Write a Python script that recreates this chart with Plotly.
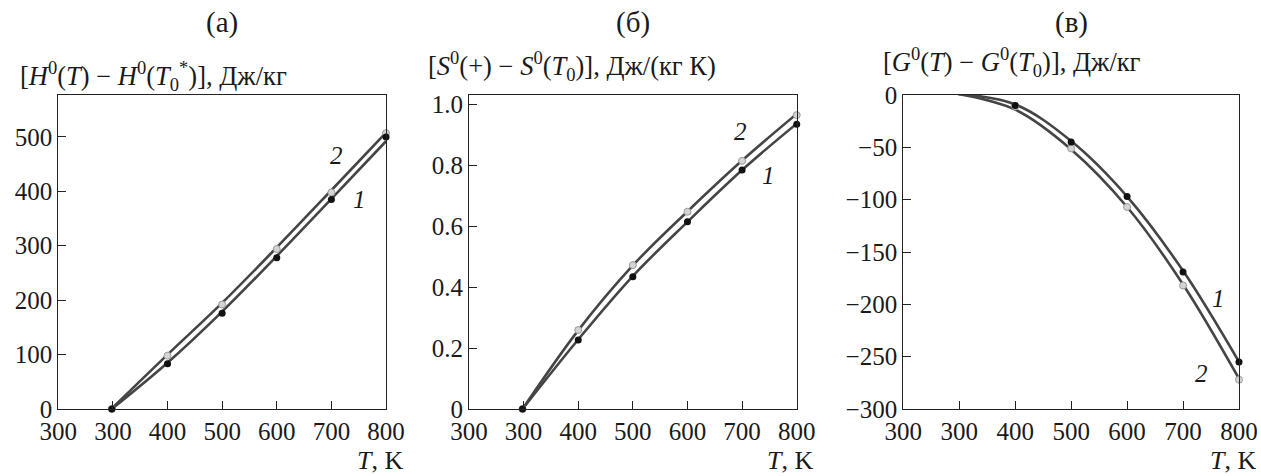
import plotly.graph_objects as go

# ---- data ----
T = [298, 400, 500, 600, 700, 800]

H_line1 = [0, 85, 179, 281, 386, 492]
H_line2 = [1, 100, 195, 297, 402, 508]
H_pts1 = [0, 83, 176, 278, 385, 500]
H_pts2 = [0, 98, 192, 294, 398, 507]

S_line1 = [0, 0.228, 0.436, 0.614, 0.784, 0.936]
S_line2 = [0, 0.258, 0.471, 0.648, 0.815, 0.968]
S_pts1 = [0, 0.226, 0.434, 0.614, 0.784, 0.934]
S_pts2 = [0, 0.259, 0.472, 0.647, 0.814, 0.964]

G_line1 = [1, -9, -44, -97, -168, -255]
G_line2 = [1, -14, -52, -107, -181, -271]
G_pts1 = [1, -10, -45, -97, -169, -255]
G_pts2 = [1, -11, -51, -107, -182, -272]

x_tickvals = [200, 300, 400, 500, 600, 700, 800]
x_ticktext = ["300", "300", "400", "500", "600", "700", "800"]
H_ticks = [0, 100, 200, 300, 400, 500]
S_ticks = [0, 0.2, 0.4, 0.6, 0.8, 1.0]
S_ticktext = ["0", "0.2", "0.4", "0.6", "0.8", "1.0"]
G_ticks = [0, -50, -100, -150, -200, -250, -300]

W, H = 1261, 476
FONT = "Liberation Serif"
LINE_C = "#454545"
TXT_C = "#1a1a1a"

fig = go.Figure()

panels = [
    ("x", "y", H_line1, H_line2, H_pts1, H_pts2),
    ("x2", "y2", S_line1, S_line2, S_pts1, S_pts2),
    ("x3", "y3", G_line1, G_line2, G_pts1, G_pts2),
]
for xa, ya, l1, l2, p1, p2 in panels:
    for ln in (l1, l2):
        fig.add_trace(go.Scatter(x=T, y=ln, mode="lines", xaxis=xa, yaxis=ya,
                                 line=dict(color=LINE_C, width=2.6, shape="spline", smoothing=1),
                                 showlegend=False, hoverinfo="skip"))
    fig.add_trace(go.Scatter(x=T, y=p2, mode="markers", xaxis=xa, yaxis=ya, cliponaxis=False,
                             marker=dict(color="#d4d4d4", size=7, symbol="circle",
                                         line=dict(color="#9a9a9a", width=1)),
                             showlegend=False))
    fig.add_trace(go.Scatter(x=T, y=p1, mode="markers", xaxis=xa, yaxis=ya, cliponaxis=False,
                             marker=dict(color="#111111", size=7, symbol="circle"),
                             showlegend=False))

def px_x(a, b):
    return [a / W, b / W]

y_dom = [1 - 409 / H, 1 - 95 / H]
x_doms = [px_x(58.3, 386), px_x(469, 796.7), px_x(903.3, 1239)]

axis_common = dict(showline=True, linecolor="#222", linewidth=1.2, mirror=True,
                   ticks="inside", ticklen=8, tickcolor="#222", tickwidth=1.2,
                   showgrid=False, zeroline=False, automargin=False,
                   tickfont=dict(family=FONT, size=25, color=TXT_C))

layout = dict(width=W, height=H, margin=dict(l=0, r=0, t=0, b=0, pad=0, autoexpand=False),
              template="none",
              paper_bgcolor="white", plot_bgcolor="white", showlegend=False)

for i, dom in enumerate(x_doms):
    sfx = "" if i == 0 else str(i + 1)
    layout["xaxis" + sfx] = dict(axis_common, domain=dom, range=[200, 800],
                                 tickmode="array", tickvals=x_tickvals, ticktext=x_ticktext,
                                 anchor="y" + sfx)
layout["yaxis"] = dict(axis_common, domain=y_dom, range=[0, 577], tickvals=H_ticks, anchor="x")
layout["yaxis2"] = dict(axis_common, domain=y_dom, range=[0, 1.03], tickvals=S_ticks,
                        ticktext=S_ticktext, anchor="x2")
layout["yaxis3"] = dict(axis_common, domain=y_dom, range=[-300, 0], tickvals=G_ticks, anchor="x3")

fig.update_layout(**layout)

ann = []
def paper_ann(text, x, y, size, xanchor="center"):
    ann.append(dict(text=text, x=x / W, y=1 - y / H, xref="paper", yref="paper",
                    showarrow=False, xanchor=xanchor, yanchor="middle",
                    font=dict(family=FONT, size=size, color=TXT_C)))

# panel letters
paper_ann("(а)", 222, 22, 29)
paper_ann("(б)", 633, 22, 29)
paper_ann("(в)", 1071, 22, 29)

# y-axis titles
paper_ann("[<i>H</i><sup>0</sup>(<i>T</i>) − <i>H</i><sup>0</sup>(<i>T</i><sub>0</sub><sup>*</sup>)], Дж/кг",
          18, 76, 26.5, "left")
paper_ann("[<i>S</i><sup>0</sup>(+) − <i>S</i><sup>0</sup>(<i>T</i><sub>0</sub>)], Дж/(кг К)",
          426, 66, 26.5, "left")
paper_ann("[<i>G</i><sup>0</sup>(<i>T</i>) − <i>G</i><sup>0</sup>(<i>T</i><sub>0</sub>)], Дж/кг",
          881, 62, 26.5, "left")

# x-axis titles
for xr in (405, 815, 1258):
    paper_ann("<i>T</i>, K", xr, 460, 26, "right")

# curve labels (data coords)
def data_ann(text, x, y, xa, ya):
    ann.append(dict(text=text, x=x, y=y, xref=xa, yref=ya, showarrow=False,
                    font=dict(family=FONT, size=25, color=TXT_C)))

data_ann("<i>2</i>", 710, 465, "x", "y")
data_ann("<i>1</i>", 752, 385, "x", "y")
data_ann("<i>2</i>", 698, 0.909, "x2", "y2")
data_ann("<i>1</i>", 748, 0.767, "x2", "y2")
data_ann("<i>1</i>", 763, -194, "x3", "y3")
data_ann("<i>2</i>", 733, -266, "x3", "y3")

fig.update_layout(annotations=ann)
fig.write_html("out.html", config={"displayModeBar": False},
               post_script="document.body.style.margin='0';document.body.style.overflow='hidden';")
